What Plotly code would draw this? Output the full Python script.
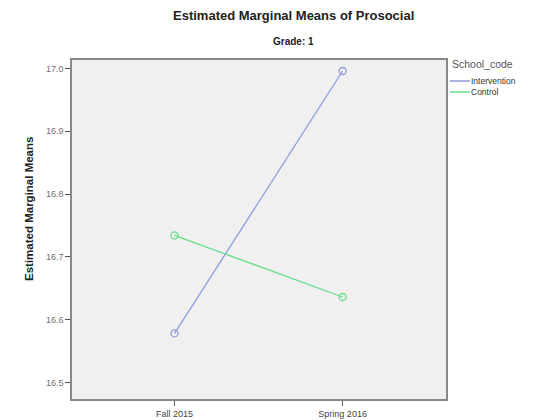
import plotly.graph_objects as go

time_points = ["Fall 2015", "Spring 2016"]
intervention = [16.578, 16.996]
control = [16.734, 16.636]
series_names = ["Intervention", "Control"]
series_colors = ["#8e9bdb", "#66dd8a"]
y_ticks = [16.5, 16.6, 16.7, 16.8, 16.9, 17.0]

FONT = "Liberation Sans, Arial, sans-serif"
W, H = 535, 420
L, R, T, B = 72, 89, 60, 21
pw = W - L - R
ph = H - T - B

fig = go.Figure()
for name, vals, col in zip(series_names, [intervention, control], series_colors):
    fig.add_trace(go.Scatter(
        x=time_points, y=vals, mode="lines+markers", name=name,
        line=dict(color=col, width=1.3),
        marker=dict(symbol="circle-open", size=7, color=col, line=dict(width=1.3)),
        showlegend=False,
    ))

fig.update_layout(
    template="none",
    width=W, height=H,
    margin=dict(l=L, r=R, t=T, b=B, autoexpand=False),
    paper_bgcolor="white",
    plot_bgcolor="#f0f0f0",
    font=dict(family=FONT, size=9, color="#555555"),
    xaxis=dict(
        type="category", range=[-0.61, 1.615], automargin=False,
        showgrid=False, zeroline=False,
        showline=True, linecolor="#888888", linewidth=1.5, mirror=True,
        ticks="outside", ticklen=5, tickcolor="#555555",
        tickfont=dict(size=9, color="#444444"),
    ),
    yaxis=dict(
        range=[16.4735, 17.0135], automargin=False,
        tickvals=y_ticks, ticktext=[f"{v:.1f}" for v in y_ticks],
        showgrid=False, zeroline=False,
        showline=True, linecolor="#888888", linewidth=1.5, mirror=True,
        ticks="outside", ticklen=5, tickcolor="#555555",
        tickfont=dict(size=9, color="#707070"),
    ),
)

def px(xp):
    return (xp - L) / pw

def py(yp):
    return (H - B - yp) / ph

# titles
fig.add_annotation(text="<b>Estimated Marginal Means of Prosocial</b>", x=px(293), y=py(15),
                   xref="paper", yref="paper", showarrow=False,
                   font=dict(family=FONT, size=13, color="#222222"), xanchor="center", yanchor="middle")
fig.add_annotation(text="<b>Grade: 1</b>", x=px(293), y=py(41),
                   xref="paper", yref="paper", showarrow=False,
                   font=dict(family=FONT, size=10, color="#222222"), xanchor="center", yanchor="middle")
fig.add_annotation(text="<b>Estimated Marginal Means</b>", x=px(29), y=py(209),
                   xref="paper", yref="paper", showarrow=False, textangle=-90,
                   font=dict(family=FONT, size=11.5, color="#222222"), xanchor="center", yanchor="middle")

# legend
fig.add_annotation(text="School_code", x=px(450), y=py(64),
                   xref="paper", yref="paper", showarrow=False,
                   font=dict(family=FONT, size=10.5, color="#555555"), xanchor="left", yanchor="middle")
for i, (name, col) in enumerate(zip(series_names, series_colors)):
    yy = 81 + i * 11
    fig.add_shape(type="line", x0=px(450), x1=px(470), y0=py(yy), y1=py(yy),
                  xref="paper", yref="paper", line=dict(color=col, width=1.5))
    fig.add_annotation(text=name, x=px(469), y=py(yy),
                       xref="paper", yref="paper", showarrow=False,
                       font=dict(family=FONT, size=8.5, color="#333333"), xanchor="left", yanchor="middle")

fig.write_html("out.html", config={"displayModeBar": False},
               post_script="document.body.style.margin='0';document.body.style.overflow='hidden';")
